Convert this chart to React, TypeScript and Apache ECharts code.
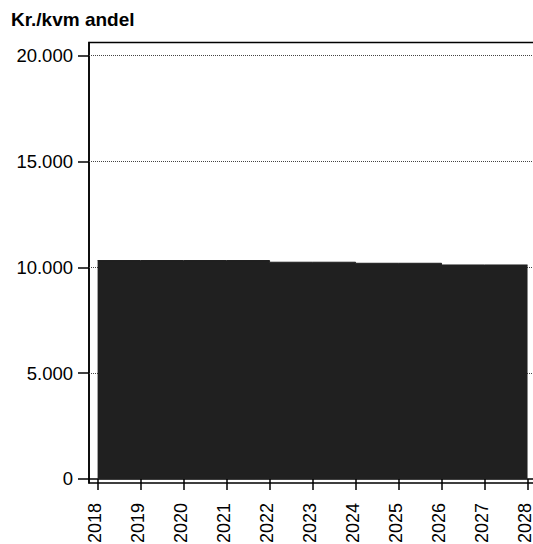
import React, { useEffect, useRef } from "react";
import * as echarts from "echarts";

const years = [2018, 2019, 2020, 2021, 2022, 2023, 2024, 2025, 2026, 2027, 2028];
const values = [10320, 10320, 10320, 10320, 10240, 10240, 10190, 10190, 10110, 10110, 10110];
const yTicks = [0, 5000, 10000, 15000, 20000];
const gridValues = [5000, 10000, 15000, 20000];
const yTitle = "Kr./kvm andel";

const FONT = "'Liberation Sans', Arial, Helvetica, sans-serif";

function fmt(v: number): string {
  return String(Math.round(v)).replace(/\B(?=(\d{3})+(?!\d))/g, ".");
}

export default function App() {
  const ref = useRef<HTMLDivElement>(null);
  useEffect(() => {
    if (!ref.current) return;
    const chart = echarts.init(ref.current, undefined, { renderer: "svg" });
    chart.setOption({
      animation: false,
      backgroundColor: "#ffffff",
      textStyle: { fontFamily: FONT },
      grid: {
        show: true,
        outerBoundsMode: "none",
        containLabel: false,
        left: 89,
        top: 42.5,
        width: 451,
        height: 440.5,
        borderColor: "#000",
        borderWidth: 1.5,
        backgroundColor: "transparent",
      },
      graphic: [
        {
          type: "text",
          left: 11,
          top: 10,
          style: {
            text: yTitle,
            font: `bold 19px ${FONT}`,
            fill: "#000",
          },
        },
      ],
      xAxis: {
        type: "value",
        min: 2017.8,
        max: 2028.29,
        axisLine: { show: true, lineStyle: { color: "#000", width: 1.5 } },
        axisTick: {
          show: true,
          length: 11,
          customValues: years,
          lineStyle: { color: "#000", width: 1.5 },
        },
        axisLabel: {
          customValues: years,
          rotate: 90,
          margin: 20,
          fontSize: 18,
          color: "#000",
          fontFamily: FONT,
          hideOverlap: false,
          formatter: (v: number) => `{a|${v}}`,
          rich: {
            a: {
              fontSize: 18,
              fontFamily: FONT,
              color: "#000",
              lineHeight: 18,
              padding: [0, 0, 6, 0],
            },
          },
        },
        splitLine: { show: false },
      },
      yAxis: {
        type: "value",
        min: -190,
        max: 20620,
        axisLine: { show: true, lineStyle: { color: "#000", width: 1.5 } },
        axisTick: {
          show: true,
          length: 11,
          customValues: yTicks,
          lineStyle: { color: "#000", width: 1.5 },
        },
        axisLabel: {
          customValues: yTicks,
          margin: 16,
          fontSize: 18.5,
          color: "#000",
          fontFamily: FONT,
          formatter: (v: number) => fmt(v),
        },
        splitLine: { show: false },
      },
      series: [
        {
          type: "line",
          z: 1,
          data: [],
          markLine: {
            z: 1,
            silent: true,
            symbol: "none",
            label: { show: false },
            lineStyle: { color: "#444", type: [1, 1], width: 1 },
            data: gridValues.map((v) => ({ yAxis: v })),
          },
        },
        {
          type: "line",
          z: 3,
          step: "end",
          showSymbol: false,
          data: years.map((y, i) => [y, values[i]]),
          lineStyle: { color: "#202020", width: 1 },
          areaStyle: { color: "#202020", opacity: 1 },
        },
      ],
    });
    return () => chart.dispose();
  }, []);
  return (
    <div
      ref={ref}
      style={{ position: "fixed", left: 0, top: 0, width: 533, height: 544 }}
    />
  );
}
